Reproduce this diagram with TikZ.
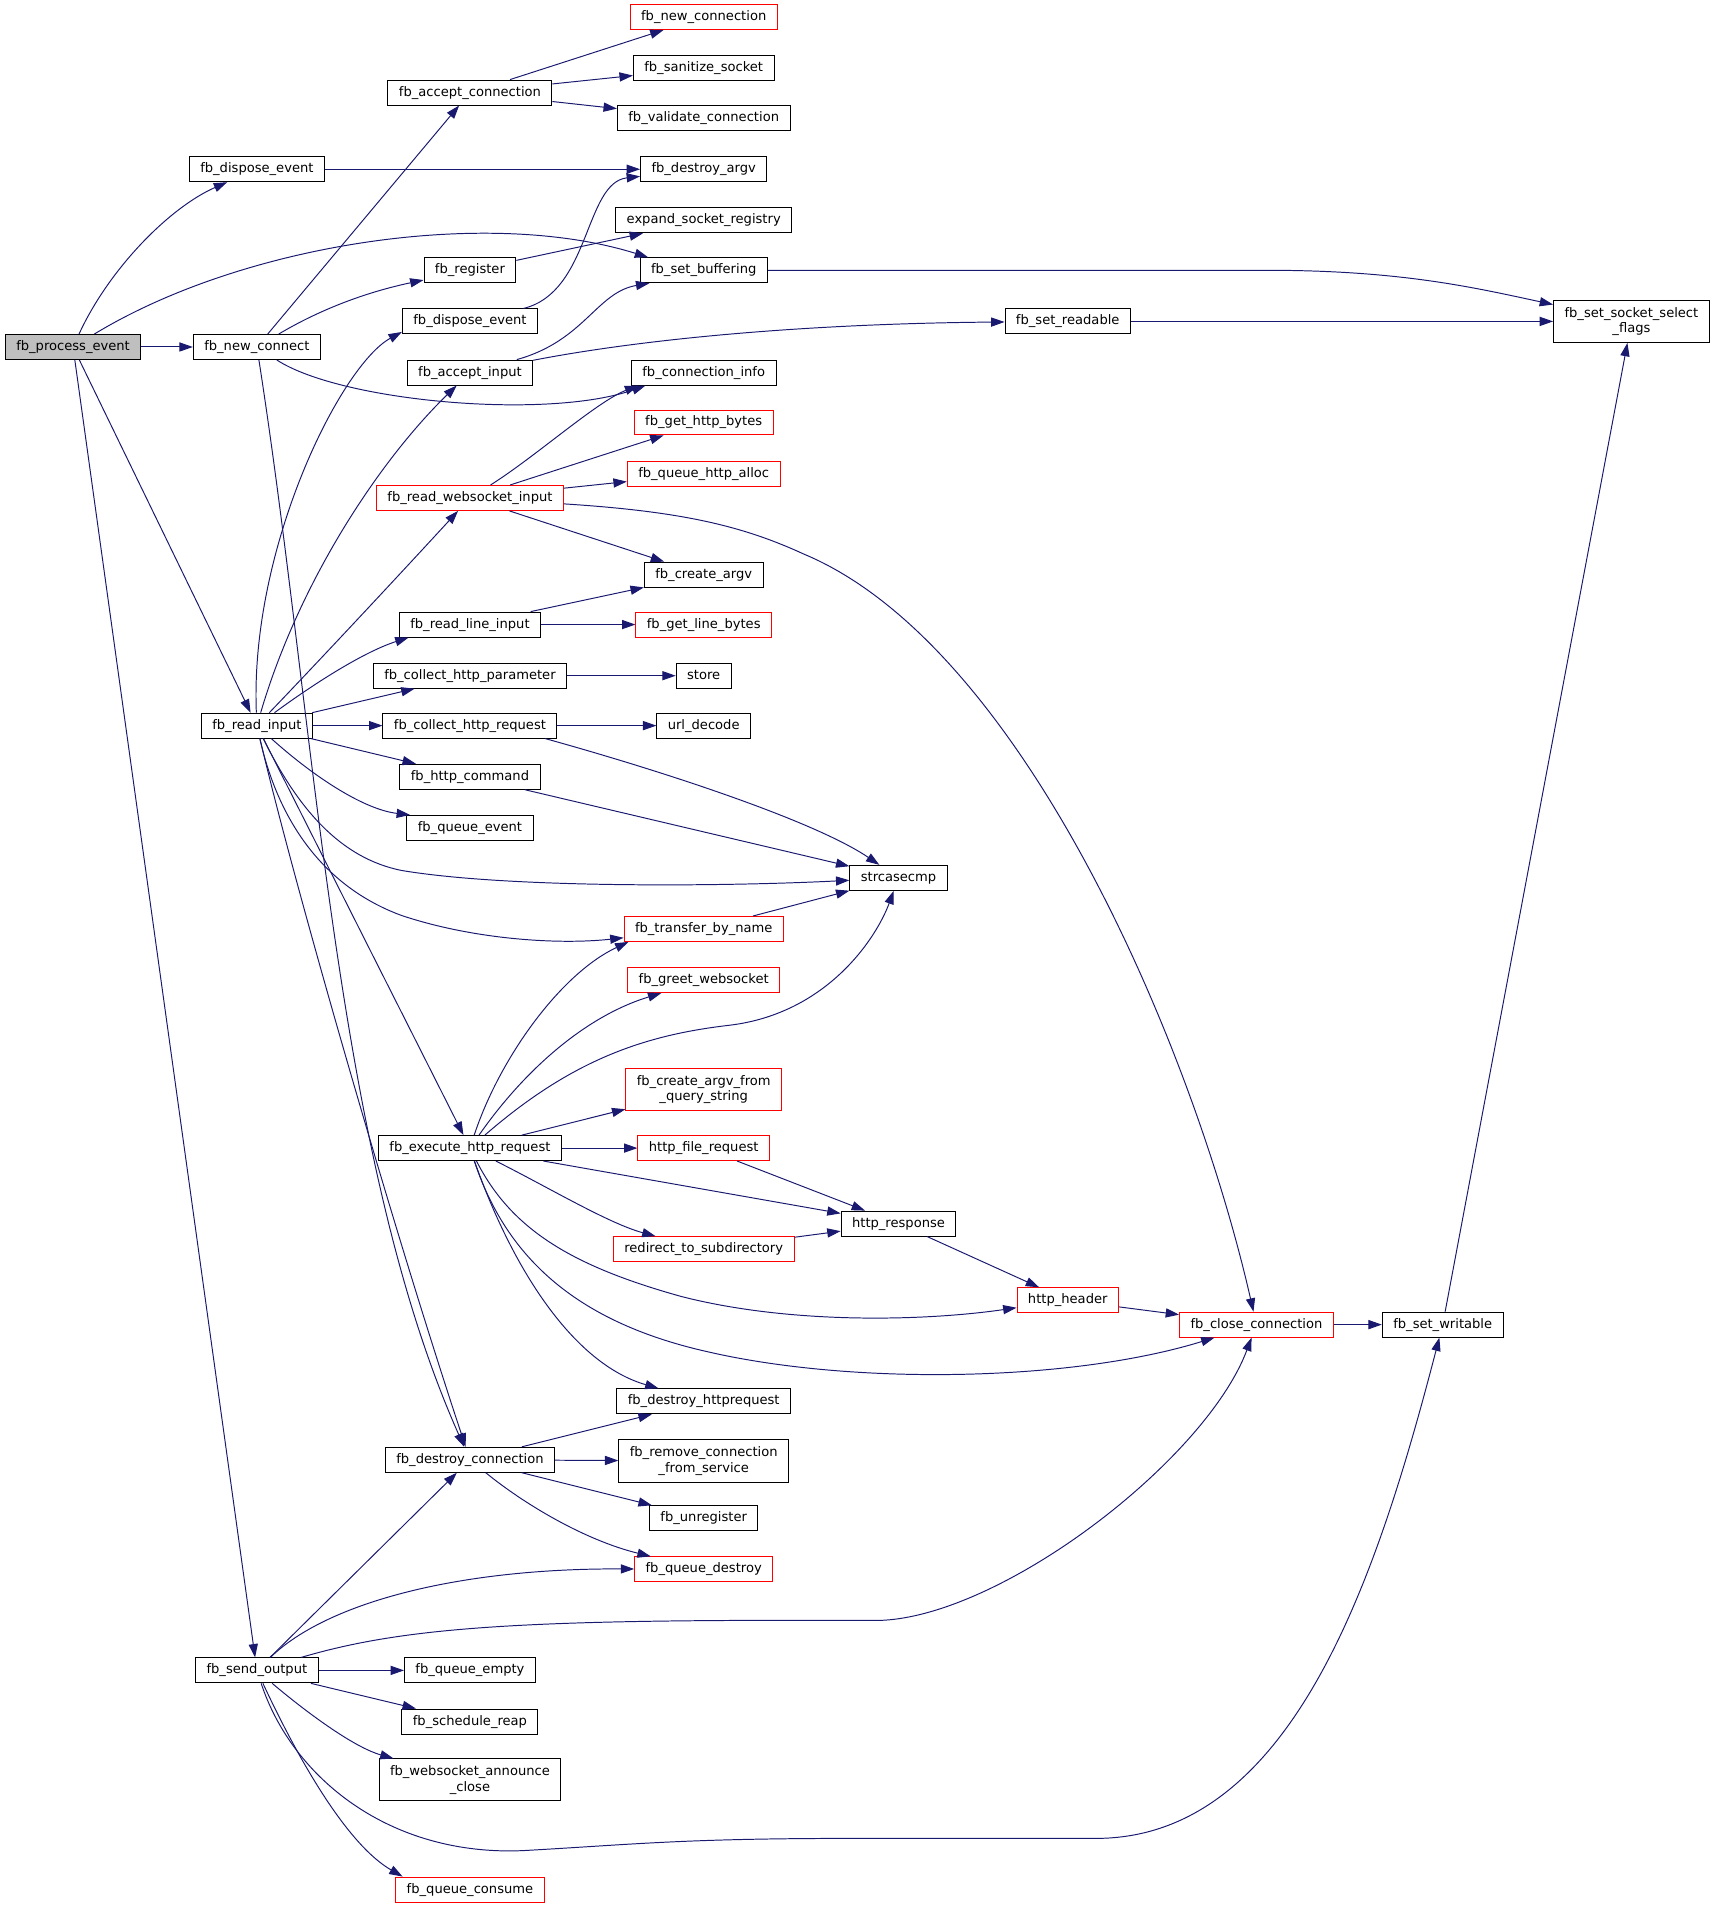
\documentclass[tikz,border=0pt]{standalone}
\usepackage{fontspec}
\setmainfont{DejaVu Sans}
\usetikzlibrary{arrows.meta}
\definecolor{edgecol}{HTML}{191970}
\definecolor{rootgray}{HTML}{BFBFBF}
\definecolor{hotred}{HTML}{FF0000}
\newcommand{\nfont}{\fontsize{10.75pt}{12.5pt}\selectfont}
\begin{document}
\begin{tikzpicture}[x=1pt,y=-1pt,
  box/.style={draw=black, fill=white, line width=0.8pt, inner xsep=9pt, inner ysep=0pt, font=\nfont},
  one/.style={box, minimum height=20.5pt, text height=8.2pt, text depth=2.4pt},
  two/.style={box, minimum height=34.5pt, align=center},
  hot/.style={draw=hotred},
  root/.style={fill=rootgray},
  ed/.style={draw=edgecol, line width=0.8pt, -{Triangle[length=11pt,width=7.5pt]}}]
\path[use as bounding box, fill=white] (0,0) rectangle (1409,1568);

% column 1
\node[one, root] (pe) at (60,285) {fb\_process\_event};
% column 2
\node[one] (de1) at (211,139) {fb\_dispose\_event};
\node[one] (nc) at (211,285) {fb\_new\_connect};
\node[one] (ri) at (211,596) {fb\_read\_input};
\node[one] (so) at (211,1372) {fb\_send\_output};
% column 3
\node[one] (ac) at (386,76) {fb\_accept\_connection};
\node[one] (reg) at (386,222) {fb\_register};
\node[one] (de2) at (386,264) {fb\_dispose\_event};
\node[one] (ai) at (386,306) {fb\_accept\_input};
\node[one, hot] (rwi) at (386,409) {fb\_read\_websocket\_input};
\node[one] (rli) at (386,513) {fb\_read\_line\_input};
\node[one] (chp) at (386,555) {fb\_collect\_http\_parameter};
\node[one] (chr) at (386,596) {fb\_collect\_http\_request};
\node[one] (hc) at (386,638) {fb\_http\_command};
\node[one] (qe) at (386,680) {fb\_queue\_event};
\node[one] (ehr) at (386,943) {fb\_execute\_http\_request};
\node[one] (dc) at (386,1199) {fb\_destroy\_connection};
\node[one] (qem) at (386,1372) {fb\_queue\_empty};
\node[one] (sr) at (386,1414) {fb\_schedule\_reap};
\node[two] (wac) at (386,1462) {fb\_websocket\_announce\\\_close};
\node[one, hot] (qc) at (386,1552) {fb\_queue\_consume};
% column 4
\node[one, hot] (ncn) at (578,14) {fb\_new\_connection};
\node[one] (ss) at (578,56) {fb\_sanitize\_socket};
\node[one] (vc) at (578,97) {fb\_validate\_connection};
\node[one] (da) at (578,139) {fb\_destroy\_argv};
\node[one] (esr) at (578,181) {expand\_socket\_registry};
\node[one] (sb) at (578,222) {fb\_set\_buffering};
\node[one] (ci) at (578,306) {fb\_connection\_info};
\node[one, hot] (ghb) at (578,347) {fb\_get\_http\_bytes};
\node[one, hot] (qha) at (578,389) {fb\_queue\_http\_alloc};
\node[one] (ca) at (578,472) {fb\_create\_argv};
\node[one, hot] (glb) at (578,513) {fb\_get\_line\_bytes};
\node[one] (st) at (578,555) {store};
\node[one] (ud) at (578,596) {url\_decode};
\node[one, hot] (tbn) at (578,763) {fb\_transfer\_by\_name};
\node[one, hot] (gw) at (578,805) {fb\_greet\_websocket};
\node[two, hot] (cafq) at (578,895) {fb\_create\_argv\_from\\\_query\_string};
\node[one, hot] (hfr) at (578,943) {http\_file\_request};
\node[one, hot] (rts) at (578,1026) {redirect\_to\_subdirectory};
\node[one] (dhr) at (578,1151) {fb\_destroy\_httprequest};
\node[two] (rcs) at (578,1200) {fb\_remove\_connection\\\_from\_service};
\node[one] (ur) at (578,1247) {fb\_unregister};
\node[one, hot] (qd) at (578,1289) {fb\_queue\_destroy};
% column 5+
\node[one] (sc) at (738,721) {strcasecmp};
\node[one] (hr) at (738,1005) {http\_response};
\node[one] (srd) at (877,264) {fb\_set\_readable};
\node[one, hot] (hh) at (877,1068) {http\_header};
\node[one, hot] (cc) at (1032,1088) {fb\_close\_connection};
\node[one] (sw) at (1185,1088) {fb\_set\_writable};
\node[two] (ssf) at (1340,264) {fb\_set\_socket\_select\\\_flags};

% edges from fb_process_event
\draw[ed] (pe) .. controls (90,220) and (140,170) .. (de1);
\draw[ed] (pe) -- (nc);
\draw[ed] (pe) -- (ri);
\draw[ed] (pe) -- (so);
\draw[ed] (pe) .. controls (200,200) and (400,170) .. ([xshift=7pt]sb.north west);
% fb_dispose_event / fb_new_connect
\draw[ed] (de1) -- (da);
\draw[ed] (nc) -- (ac);
\draw[ed] (nc) .. controls (270,250) and (310,238) .. (reg);
\draw[ed] (nc) .. controls (280,330) and (450,345) .. ([xshift=12pt]ci.south west);
\draw[ed] (nc) .. controls (260,600) and (275,950) .. (dc);
% accept_connection, register, dispose_event, accept_input
\draw[ed] (ac) -- (ncn);
\draw[ed] (ac) -- (ss);
\draw[ed] (ac) -- (vc);
\draw[ed] (reg) -- (esr);
\draw[ed] (de2) .. controls (485,240) and (480,150) .. (da);
\draw[ed] (ai) .. controls (480,280) and (490,240) .. ([xshift=8pt]sb.south west);
\draw[ed] (ai) .. controls (520,280) and (650,266) .. (srd);
\draw[ed] (sb) -- (1040,222) .. controls (1150,222) and (1210,236) .. (ssf);
\draw[ed] (srd) -- (ssf);
% read_websocket_input
\draw[ed] (rwi) .. controls (440,375) and (490,330) .. ([xshift=6pt]ci.south west);
\draw[ed] (rwi) -- (ghb);
\draw[ed] (rwi) -- (qha);
\draw[ed] (rwi) -- (ca);
\draw[ed] (rwi) .. controls (560,420) and (610,432) .. (660,455) .. controls (840,530) and (980,860) .. (cc);
% read_line_input etc.
\draw[ed] (rli) -- (ca);
\draw[ed] (rli) -- (glb);
\draw[ed] (chp) -- (st);
\draw[ed] (chr) -- (ud);
\draw[ed] ([xshift=-10pt]chr.south east) .. controls (550,635) and (670,675) .. (sc);
\draw[ed] (hc) -- (sc);
% fb_read_input
\draw[ed] (ri) .. controls (205,450) and (280,300) .. ([yshift=2pt]de2.south west);
\draw[ed] (ri) .. controls (245,480) and (310,380) .. (ai);
\draw[ed] (ri) .. controls (260,545) and (330,470) .. (rwi);
\draw[ed] (ri) .. controls (260,560) and (300,535) .. ([xshift=8pt]rli.south west);
\draw[ed] (ri) -- (chp);
\draw[ed] (ri) -- (chr);
\draw[ed] (ri) -- (hc);
\draw[ed] (ri) .. controls (260,640) and (300,665) .. ([xshift=3pt]qe.north west);
\draw[ed] (ri) .. controls (245,665) and (280,705) .. (330,715) .. controls (420,730) and (600,728) .. (sc);
\draw[ed] (ri) .. controls (230,680) and (270,730) .. (330,752) .. controls (390,772) and (460,776) .. (tbn);
\draw[ed] (ri) -- (ehr);
\draw[ed] (ri) .. controls (240,720) and (320,1000) .. (dc);
\draw[ed] (tbn) -- (sc);
% fb_execute_http_request
\draw[ed] (ehr) .. controls (410,870) and (460,800) .. ([xshift=4pt]tbn.south west);
\draw[ed] (ehr) .. controls (430,880) and (480,835) .. (gw);
\draw[ed] (ehr) .. controls (470,870) and (530,850) .. (600,842) .. controls (680,832) and (720,770) .. (sc);
\draw[ed] (ehr) -- (cafq);
\draw[ed] (ehr) -- (hfr);
\draw[ed] (ehr) -- (hr);
\draw[ed] (ehr) .. controls (450,975) and (500,1005) .. (rts);
\draw[ed] (ehr) .. controls (420,1010) and (470,1040) .. (560,1065) .. controls (650,1088) and (760,1085) .. (hh);
\draw[ed] (ehr) .. controls (415,1030) and (470,1085) .. (580,1110) .. controls (700,1138) and (880,1135) .. (cc);
\draw[ed] (ehr) .. controls (420,1040) and (470,1120) .. (dhr);
\draw[ed] (hfr) -- (hr);
\draw[ed] (rts) -- (hr);
\draw[ed] (hr) -- (hh);
\draw[ed] (hh) -- (cc);
\draw[ed] (cc) -- (sw);
\draw[ed] (sw) -- (ssf);
% fb_destroy_connection
\draw[ed] (dc) -- (dhr);
\draw[ed] (dc) -- (rcs);
\draw[ed] (dc) -- (ur);
\draw[ed] (dc) .. controls (430,1235) and (480,1265) .. (qd);
% fb_send_output
\draw[ed] (so) -- (dc);
\draw[ed] (so) .. controls (270,1315) and (380,1288) .. (qd);
\draw[ed] (so) .. controls (320,1340) and (400,1332) .. (600,1331) -- (720,1331) .. controls (820,1330) and (990,1200) .. (cc);
\draw[ed] (so) -- (qem);
\draw[ed] (so) -- (sr);
\draw[ed] (so) .. controls (250,1405) and (290,1435) .. (wac);
\draw[ed] (so) .. controls (245,1445) and (285,1515) .. ([xshift=6pt]qc.north west);
\draw[ed] (so) .. controls (240,1460) and (320,1525) .. (430,1520) .. controls (520,1515) and (560,1510) .. (700,1510) -- (900,1510) .. controls (1060,1510) and (1130,1300) .. (sw);
\end{tikzpicture}
\end{document}
